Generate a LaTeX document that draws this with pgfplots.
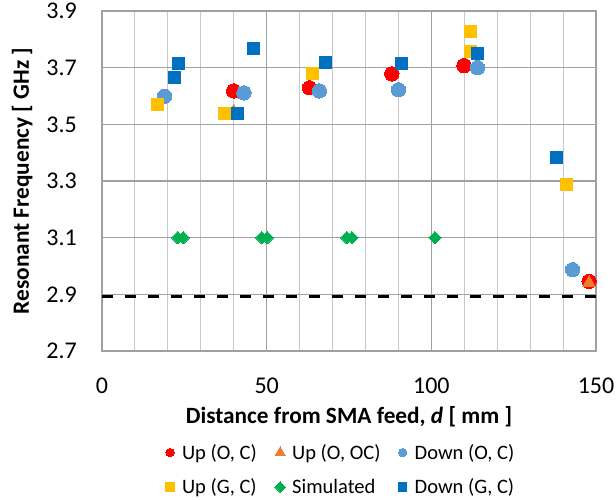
\documentclass[border=0pt]{standalone}
\usepackage{fontspec}
\setmainfont{Carlito}
\usepackage{pgfplots}
\pgfplotsset{compat=1.18}
\definecolor{cred}{HTML}{FF0000}
\definecolor{corange}{HTML}{ED7D31}
\definecolor{clblue}{HTML}{5B9BD5}
\definecolor{cyellow}{HTML}{FFC000}
\definecolor{cgreen}{HTML}{00B050}
\definecolor{cblue}{HTML}{0070C0}
\definecolor{gridmaj}{HTML}{A0A0A0}
\definecolor{gridmin}{HTML}{C8C8C8}
\pgfplotsset{
  legmark/.style={legend image code/.code={%
    \draw[##1, mark size=#1] plot coordinates {(0cm,0cm)};
    \path[draw=none, fill=none] (-4pt,0pt) -- (10pt,0pt);}},
}

\begin{document}
\begin{tikzpicture}
\begin{axis}[
  scale only axis, width=494pt, height=340pt,
  xmin=0, xmax=150, ymin=2.7, ymax=3.9,
  xtick={0,50,100,150},
  minor xtick={10,20,30,40,60,70,80,90,110,120,130,140},
  ytick={2.7,2.9,3.1,3.3,3.5,3.7,3.9},
  xmajorgrids, xminorgrids, ymajorgrids,
  major grid style={draw=gridmaj, line width=1.1pt},
  minor grid style={draw=gridmin, line width=1pt},
  axis line style={draw=gridmaj, line width=1.1pt},
  tick style={draw=none},
  tick label style={font=\fontsize{24}{28}\selectfont},
  /pgf/number format/assume math mode=true,
  xticklabel style={inner sep=0pt, anchor=north, yshift=-27pt},
  yticklabel style={inner sep=0pt, anchor=east, xshift=-25pt,
    /pgf/number format/.cd, fixed, fixed zerofill, precision=1},
  xlabel={Distance from SMA feed, \textit{d} [ mm ]},
  xlabel style={font=\bfseries\fontsize{23.3}{28}\selectfont,
    at={(axis description cs:0.5,-0.2118)}, anchor=base},
  ylabel={Resonant Frequency [ GHz ]},
  ylabel style={font=\bfseries\fontsize{23.3}{28}\selectfont,
    at={(axis description cs:-0.1478,0.5)}, anchor=base},
  legend columns=3,
  legend cell align=left,
  legend style={at={(axis description cs:0.484,-0.262)}, anchor=north,
    draw=none, fill=none, font=\fontsize{20.5}{24}\selectfont, row sep=14pt,
    /tikz/every even column/.append style={column sep=16pt}},
  legmark=4.2pt,
]
\coordinate (O) at (rel axis cs:0,0);

\addplot[black, line width=3pt, dash pattern=on 11pt off 12pt, forget plot]
  coordinates {(0,2.893) (150,2.893)};

% Up (O, C)
\addplot[only marks, mark=*, mark size=7.2pt, mark options={fill=cred, draw=cred, line width=0pt}]
  coordinates {(40.0,3.618) (63.0,3.629) (88.0,3.678) (109.9,3.707) (147.9,2.946)};
\addlegendentry{Up (O, C)}
% Up (O, OC)
\addplot[only marks, mark=triangle*, mark size=7.5pt, mark options={fill=corange, draw=corange, line width=0pt}, legmark=5.8pt]
  coordinates {(40.0,3.545) (147.9,2.940)};
\addlegendentry{Up (O, OC)}
% Down (O, C)
\addplot[only marks, mark=*, mark size=7.2pt, mark options={fill=clblue, draw=clblue, line width=0pt}]
  coordinates {(19.0,3.599) (43.1,3.611) (66.0,3.618) (90.0,3.622) (114.0,3.700) (142.9,2.987)};
\addlegendentry{Down (O, C)}
% Up (G, C)
\addplot[only marks, mark=square*, mark size=6pt, mark options={fill=cyellow, draw=cyellow, line width=0pt}]
  coordinates {(17.0,3.569) (37.1,3.539) (64.0,3.678) (112.0,3.826) (112.0,3.756) (141.0,3.286)};
\addlegendentry{Up (G, C)}
% Simulated
\addplot[only marks, mark=square*, mark size=4.4pt, mark options={rotate=45, fill=cgreen, draw=cgreen, line width=0pt}, legmark=3.8pt]
  coordinates {(23.0,3.1) (24.7,3.1) (48.5,3.1) (50.2,3.1) (74.3,3.1) (75.9,3.1) (101.1,3.1)};
\addlegendentry{Simulated}
% Down (G, C)
\addplot[only marks, mark=square*, mark size=6pt, mark options={fill=cblue, draw=cblue, line width=0pt}]
  coordinates {(22.1,3.665) (23.1,3.713) (41.0,3.539) (45.9,3.766) (68.0,3.719) (91.0,3.714) (114.0,3.749) (138.0,3.382)};
\addlegendentry{Down (G, C)}
\end{axis}
\path (O) ++(-102pt,-148pt) rectangle ++(616pt,499pt);
\end{tikzpicture}
\end{document}
